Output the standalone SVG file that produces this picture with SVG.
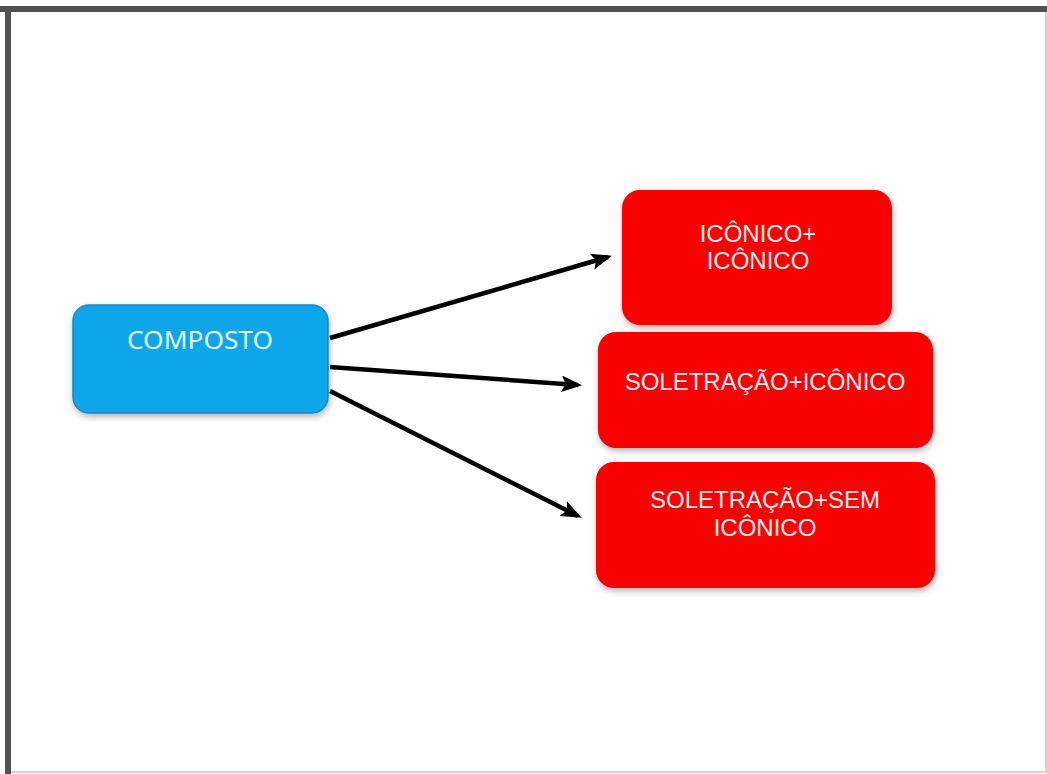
<svg xmlns="http://www.w3.org/2000/svg" width="1047" height="774" viewBox="0 0 1047 774">
  <style>
    .red { fill: #fb0000; }
    .blue { fill: #10a6ea; stroke: #1b88bd; stroke-width: 1.5; }
    .rtxt { font-family: "Liberation Sans", Arial, sans-serif; font-size: 24px; fill: #fff0ee; text-anchor: middle; }
    .btxt { font-family: "Noto Sans", "Open Sans", sans-serif; font-size: 25px; fill: #e6fbff; text-anchor: middle; }
    .conn { stroke: #000; stroke-width: 4.5; fill: none; marker-end: url(#arrow); }
  </style>
  <defs>
    <marker id="arrow" viewBox="0 0 10 8" refX="8" refY="4" markerWidth="4.6" markerHeight="3.7" orient="auto" markerUnits="strokeWidth">
      <path d="M0,0 L10,4 L0,8 L2,4 z" fill="#000"/>
    </marker>
    <filter id="shadow" x="-10%" y="-10%" width="125%" height="130%">
      <feDropShadow dx="1" dy="3" stdDeviation="3" flood-color="#000" flood-opacity="0.3"/>
    </filter>
  </defs>
  <rect x="0" y="0" width="1047" height="774" fill="#ffffff"/>
  <g id="frame">
    <line x1="0" y1="9" x2="1047" y2="9" stroke="#515151" stroke-width="6"/>
    <line x1="8" y1="6" x2="8" y2="774" stroke="#515151" stroke-width="6"/>
    <line x1="1046" y1="12" x2="1046" y2="772" stroke="#c8c8c8" stroke-width="1.5"/>
    <line x1="11" y1="772" x2="1047" y2="772" stroke="#c8c8c8" stroke-width="1.5"/>
  </g>
  <g id="connectors">
    <line class="conn" x1="330" y1="338" x2="608" y2="257"/>
    <line class="conn" x1="330" y1="367" x2="578" y2="385"/>
    <line class="conn" x1="330" y1="391" x2="578" y2="516"/>
  </g>
  <g id="composto">
    <rect class="blue" x="73" y="305" width="255" height="108" rx="16" filter="url(#shadow)"/>
    <text class="btxt" x="200" y="349" textLength="146" lengthAdjust="spacingAndGlyphs">COMPOSTO</text>
  </g>
  <g id="iconico-iconico">
    <rect class="red" x="622" y="190" width="270" height="135" rx="18" filter="url(#shadow)"/>
    <text class="rtxt" x="758" y="242">ICÔNICO+</text>
    <text class="rtxt" x="758" y="269">ICÔNICO</text>
  </g>
  <g id="soletracao-iconico">
    <rect class="red" x="598" y="332" width="335" height="116" rx="18" filter="url(#shadow)"/>
    <text class="rtxt" x="765" y="390">SOLETRAÇÃO+ICÔNICO</text>
  </g>
  <g id="soletracao-sem-iconico">
    <rect class="red" x="596" y="462" width="339" height="126" rx="18" filter="url(#shadow)"/>
    <text class="rtxt" x="765" y="508">SOLETRAÇÃO+SEM</text>
    <text class="rtxt" x="765" y="536">ICÔNICO</text>
  </g>
</svg>
